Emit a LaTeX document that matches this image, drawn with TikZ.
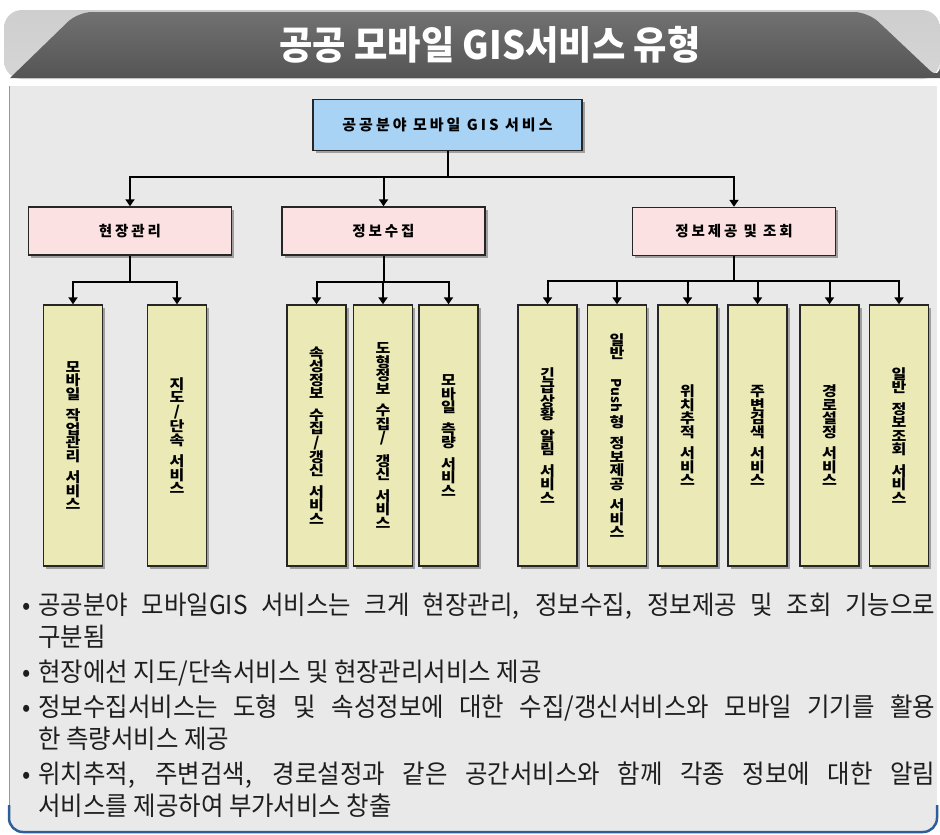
\documentclass[tikz,border=0pt]{standalone}
\usepackage{fontspec}
\usepackage{graphicx}
\usetikzlibrary{arrows.meta,shadows,calc}
\newfontfamily\kr{Noto Sans CJK KR}
\newfontfamily\krleaf[FakeStretch=1.15]{Noto Sans CJK KR}
\newfontfamily\krls[LetterSpace=20]{Noto Sans CJK KR}
\newfontfamily\krtitle[FakeStretch=0.93]{Noto Sans CJK KR}
\newfontfamily\krtext[FakeStretch=0.94]{Noto Sans CJK KR}
\definecolor{panelc}{HTML}{E9E9E9}
\definecolor{leftc}{HTML}{8A9CB2}
\definecolor{bluec}{HTML}{2D5E97}
\definecolor{darkc}{HTML}{585858}
\definecolor{lightc}{HTML}{C2C2C2}
\definecolor{topblue}{HTML}{A8D3F4}
\definecolor{pinkc}{HTML}{FBE1E1}
\definecolor{leafc}{HTML}{EBEAB6}
\definecolor{textc}{HTML}{1E1E1E}
\begin{document}
\begin{tikzpicture}[x=1pt,y=-1pt,
  boxshadow/.style={drop shadow={shadow xshift=2.5pt,shadow yshift=-2.5pt,fill=black!50,opacity=0.7}},
  basebox/.style={draw=black!85,line width=1.4pt,inner sep=0pt,boxshadow},
  topbox/.style={basebox,fill=topblue,minimum width=269pt,minimum height=51pt,font=\krls\bfseries\fontsize{15}{17}\selectfont},
  midbox/.style={basebox,fill=pinkc,minimum width=203pt,minimum height=48pt,font=\krls\bfseries\fontsize{14.5}{16}\selectfont},
  leaf/.style={basebox,fill=leafc,minimum width=59pt,minimum height=261pt,align=center,font=\krleaf\bfseries\fontsize{14}{13.5}\selectfont},
  arr/.style={line width=2pt,draw=black,-{Triangle[width=9pt,length=7pt]}}]
\useasboundingbox (0,0) rectangle (940,835);
\fill[white] (0,0) rectangle (940,835);
% header
\shade[top color=lightc!80,bottom color=lightc!110!black,rounded corners=18pt] (4,79) -- (4,10) -- (940,10) -- (940,79) -- cycle;
\shade[top color=darkc!85!white,bottom color=darkc!95!black,rounded corners=14pt] (10,78) -- (78,12) -- (868,12) -- (940,80) [sharp corners] -- (940,78) -- cycle;
\node[text=white,font=\krtitle\bfseries\fontsize{39}{39}\selectfont] (title) at (490,45) {공공 모바일 GIS서비스 유형};
% panel
\fill[panelc] (9,86) rectangle (937,815);
\fill[panelc,rounded corners=14pt] (9,800) -- (9,832) -- (937,832) -- (937,800) -- cycle;
\draw[leftc,line width=1pt] (9,86) -- (9,818);
\draw[bluec,line width=2.5pt,rounded corners=14pt] (9,805) -- (9,832) -- (937,832) -- (937,805);
% nodes
\node[topbox] (top) at (447.5,125) {공공분야 모바일 GIS 서비스};
\node[midbox] (m1) at (130,231) {현장관리};
\node[midbox] (m2) at (383.5,231) {정보수집};
\node[midbox] (m3) at (734,231.5) {정보제공 및 조회};
\node[leaf] (l1) at (73,435.5) {모\\바\\일\\[8pt]작\\업\\관\\리\\[8pt]서\\비\\스};
\node[leaf] (l2) at (177,435.5) {지\\도\\/\\단\\속\\[8pt]서\\비\\스};
\node[leaf] (l3) at (316.5,435.5) {속\\성\\정\\보\\[8pt]수\\집\\/\\갱\\신\\[8pt]서\\비\\스};
\node[leaf] (l4) at (383,435.5) {도\\형\\정\\보\\[8pt]수\\집\\/\\[8pt]갱\\신\\[8pt]서\\비\\스};
\node[leaf] (l5) at (448.5,435.5) {모\\바\\일\\[8pt]측\\량\\[8pt]서\\비\\스};
\node[leaf] (r1) at (547.5,435.5) {긴\\급\\상\\황\\[8pt]알\\림\\[8pt]서\\비\\스};
\node[leaf] (r2) at (617,435.5) {일\\반\\[6pt]{\kr\bfseries\fontsize{13.5}{13.5}\selectfont\rotatebox{-90}{Push}}\\[2pt]형\\[8pt]정\\보\\제\\공\\[8pt]서\\비\\스};
\node[leaf] (r3) at (687.5,435.5) {위\\치\\추\\적\\[8pt]서\\비\\스};
\node[leaf] (r4) at (757.5,435.5) {주\\변\\검\\색\\[8pt]서\\비\\스};
\node[leaf] (r5) at (829.5,435.5) {경\\로\\설\\정\\[8pt]서\\비\\스};
\node[leaf] (r6) at (899,435.5) {일\\반\\[8pt]정\\보\\조\\회\\[8pt]서\\비\\스};
% connectors
\foreach \c in {m1,m2,m3} \draw[arr] (top.south) -- ++(0,26) -| (\c.north);
\foreach \c in {l1,l2} \draw[arr] (m1.south) -- ++(0,26) -| (\c.north);
\foreach \c in {l3,l4,l5} \draw[arr] (m2.south) -- ++(0,26) -| (\c.north);
\foreach \c in {r1,r2,r3,r4,r5,r6} \draw[arr] (m3.south) -- ++(0,25) -| (\c.north);
% notes
\node[anchor=north west,inner sep=0pt,text width=913pt,align=justify,text=textc,font=\krtext\fontsize{26}{32}\selectfont] (notes) at (22,593) {%
\setlength{\parskip}{3pt}%
\hangindent=16pt\hangafter=1\noindent\makebox[16pt][l]{•}공공분야 모바일GIS 서비스는 크게 현장관리, 정보수집, 정보제공 및 조회 기능으로\linebreak 구분됨\par
\hangindent=16pt\hangafter=1\noindent\makebox[16pt][l]{•}현장에선 지도/단속서비스 및 현장관리서비스 제공\par
\hangindent=16pt\hangafter=1\noindent\makebox[16pt][l]{•}정보수집서비스는 도형 및 속성정보에 대한 수집/갱신서비스와 모바일 기기를 활용\linebreak 한 측량서비스 제공\par
\hangindent=16pt\hangafter=1\noindent\makebox[16pt][l]{•}위치추적, 주변검색, 경로설정과 같은 공간서비스와 함께 각종 정보에 대한 알림\linebreak 서비스를 제공하여 부가서비스 창출\par};
\end{tikzpicture}
\end{document}
